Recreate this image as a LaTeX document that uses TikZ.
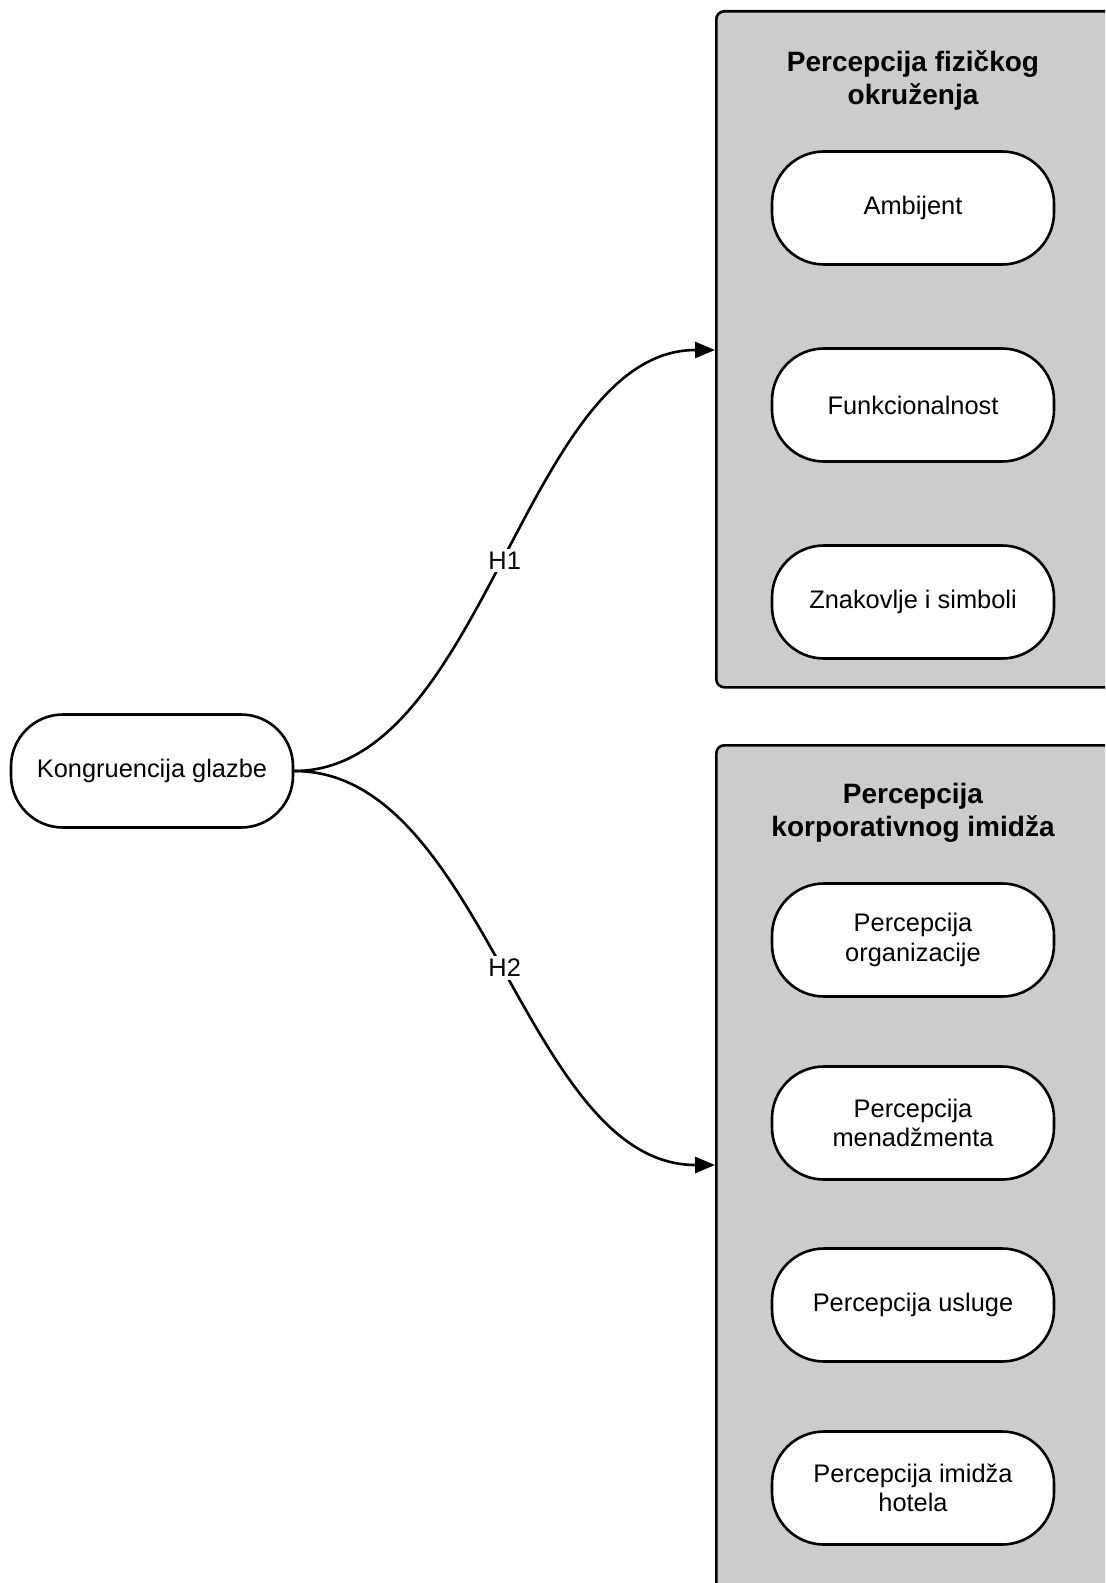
\documentclass[tikz,border=0pt]{standalone}
\usepackage{fontspec}
\setmainfont{Liberation Sans}
\usetikzlibrary{arrows.meta}

\definecolor{boxgray}{HTML}{CCCCCC}
\tikzset{
  pill/.style={draw, line width=1.3pt, rectangle, rounded corners=26pt, fill=white,
    minimum width=141pt, minimum height=56.5pt, align=center,
    font=\fontsize{12.7}{14.8}\selectfont},
  groupbox/.style={draw, line width=1.3pt, fill=boxgray, rounded corners=4pt,
    anchor=north west, minimum width=215pt, inner sep=0pt},
  grouptitle/.style={align=center, font=\bfseries\fontsize{14}{16.5}\selectfont},
  link/.style={line width=1.3pt, -{Triangle[length=10pt,width=8pt]}},
  hlabel/.style={fill=white, inner sep=1.5pt, font=\fontsize{12.7}{14.8}\selectfont}
}

\begin{document}
\begin{tikzpicture}[x=0.5pt,y=-0.5pt]
\clip (0,0) rectangle (1105,1583);
%\draw[help lines] (0,0) grid[step=100] (1105,1583);
\node[groupbox, minimum height=338pt] (fizicko) at (715,10) {};
\node[groupbox, minimum height=430pt] (imidz) at (715,744) {};
\node[grouptitle] (fiztitle) at (913,80) {Percepcija fizičkog\\okruženja};
\node[grouptitle] (imtitle) at (913,813) {Percepcija\\korporativnog imidža};

\node[pill] (amb) at (913,208) {Ambijent};
\node[pill] (fun) at (913,405) {Funkcionalnost};
\node[pill] (znak) at (913,602) {Znakovlje i simboli};
\node[pill] (org) at (913,940) {Percepcija\\organizacije};
\node[pill] (men) at (913,1123) {Percepcija\\menadžmenta};
\node[pill] (usl) at (913,1305) {Percepcija usluge};
\node[pill] (hot) at (913,1488) {Percepcija imidža\\hotela};

\node[pill] (kong) at (152,771) {Kongruencija glazbe};

\coordinate (h1end) at (715,350);
\coordinate (h2end) at (715,1165);
\draw[link] (kong.east) .. controls +(190,0) and +(-190,0) .. (h1end)
  node[hlabel, pos=0.5] {H1};
\draw[link] (kong.east) .. controls +(190,0) and +(-190,0) .. (h2end)
  node[hlabel, pos=0.5] {H2};
\end{tikzpicture}
\end{document}
